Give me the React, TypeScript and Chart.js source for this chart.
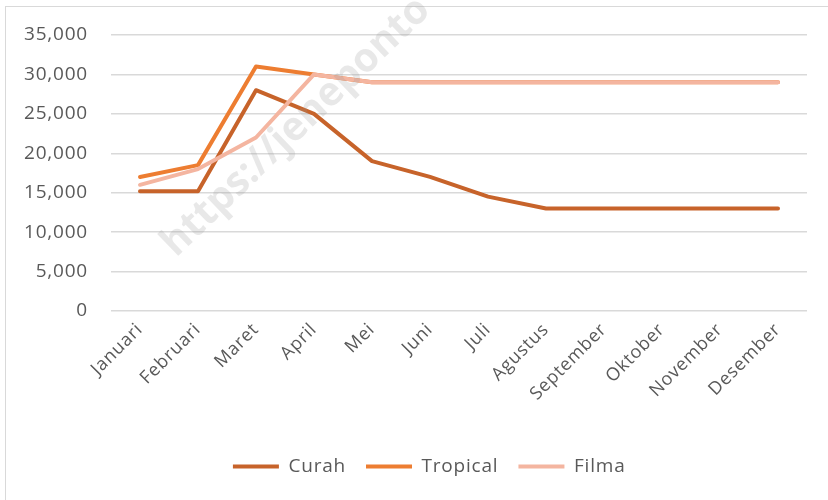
import React, { useEffect, useRef } from "react";
import { Chart, registerables } from "chart.js";

Chart.register(...registerables);

const months = ["Januari", "Februari", "Maret", "April", "Mei", "Juni", "Juli", "Agustus", "September", "Oktober", "November", "Desember"];
const curah = [15200, 15200, 28000, 25000, 19000, 17000, 14500, 13000, 13000, 13000, 13000, 13000];
const tropical = [17000, 18500, 31000, 30000, 29000, 29000, 29000, 29000, 29000, 29000, 29000, 29000];
const filma = [16000, 18000, 22000, 30000, 29000, 29000, 29000, 29000, 29000, 29000, 29000, 29000];
const seriesNames = ["Curah", "Tropical", "Filma"];
const seriesColors = ["#C7632A", "#ED7D31", "#F4B5A0"];
const yMin = 0;
const yMax = 35000;
const yStep = 5000;
const watermark = "https://jeneponto";

const FONT = "'Open Sans', 'Noto Sans', sans-serif";
const TEXT = "#595959";

const spacingPlugin = {
  id: "spacing",
  beforeDraw(chart: any) {
    (chart.ctx as any).letterSpacing = "0.8px";
  },
};

const watermarkPlugin = {
  id: "watermark",
  afterDatasetsDraw(chart: any) {
    const ctx = chart.ctx;
    ctx.save();
    (ctx as any).letterSpacing = "0px";
    ctx.translate(176, 258);
    ctx.rotate(-Math.PI / 4 + 0.02);
    ctx.font = "bold 40px " + FONT;
    ctx.fillStyle = "rgba(150,150,150,0.22)";
    ctx.textBaseline = "alphabetic";
    ctx.fillText(watermark, 0, 0);
    ctx.restore();
  },
};

export default function App() {
  const ref = useRef<HTMLCanvasElement | null>(null);
  useEffect(() => {
    if (!ref.current) return;
    const values = [curah, tropical, filma];
    const chart = new Chart(ref.current, {
      type: "line",
      data: {
        labels: months,
        datasets: seriesNames.map((name, i) => ({
          label: name,
          data: values[i],
          borderColor: seriesColors[i],
          backgroundColor: seriesColors[i],
          borderWidth: 4,
          pointRadius: 0,
          pointHoverRadius: 0,
          tension: 0,
          borderCapStyle: "round" as const,
          borderJoinStyle: "round" as const,
          order: 3 - i,
        })),
      },
      options: {
        animation: false,
        responsive: false,
        maintainAspectRatio: false,
        layout: { padding: { left: 16, right: 0, top: 35, bottom: 14 } },
        plugins: {
          tooltip: { enabled: false },
          legend: {
            position: "bottom",
            labels: {
              font: { family: FONT, size: 19 },
              color: TEXT,
              boxWidth: 46,
              boxHeight: 4,
              padding: 20,
              sort: (a: any, b: any) => a.datasetIndex - b.datasetIndex,
              generateLabels: (chart: any) =>
                chart.data.datasets.map((ds: any, i: number) => ({
                  text: ds.label,
                  fillStyle: ds.borderColor,
                  strokeStyle: ds.borderColor,
                  lineWidth: 0,
                  fontColor: TEXT,
                  hidden: false,
                  datasetIndex: i,
                })),
            },
          },
        },
        scales: {
          x: {
            offset: true,
            grid: { display: false, drawTicks: false },
            border: { display: false },
            ticks: {
              font: { family: FONT, size: 18 },
              color: TEXT,
              minRotation: 45,
              maxRotation: 45,
              autoSkip: false,
              padding: 8,
            },
            afterFit: (scale: any) => {
              scale.height = 126;
            },
          },
          y: {
            min: yMin,
            max: yMax,
            grid: { color: "#d9d9d9", lineWidth: 1.5, drawTicks: false },
            border: { display: false },
            ticks: {
              stepSize: yStep,
              font: { family: FONT, size: 19 },
              color: TEXT,
              padding: 23,
              callback: (v: any) => Number(v).toLocaleString("en-US"),
            },
            afterFit: (scale: any) => {
              scale.width = 95;
            },
          },
          yRight: {
            position: "right",
            min: yMin,
            max: yMax,
            grid: { display: false, drawTicks: false },
            border: { display: false },
            ticks: { display: false },
            afterFit: (scale: any) => {
              scale.width = 21;
            },
          },
        },
      },
      plugins: [spacingPlugin, watermarkPlugin],
    });
    return () => chart.destroy();
  }, []);

  return (
    <div style={{ position: "fixed", left: 0, top: 0, width: 828, height: 500, overflow: "hidden", background: "#fff" }}>
      <div style={{ position: "absolute", left: 5, top: 6, width: 900, height: 600, border: "1.5px solid #d9d9d9" }} />
      <canvas ref={ref} width={828} height={500} style={{ position: "absolute", left: 0, top: 0, width: 828, height: 500 }} />
    </div>
  );
}
